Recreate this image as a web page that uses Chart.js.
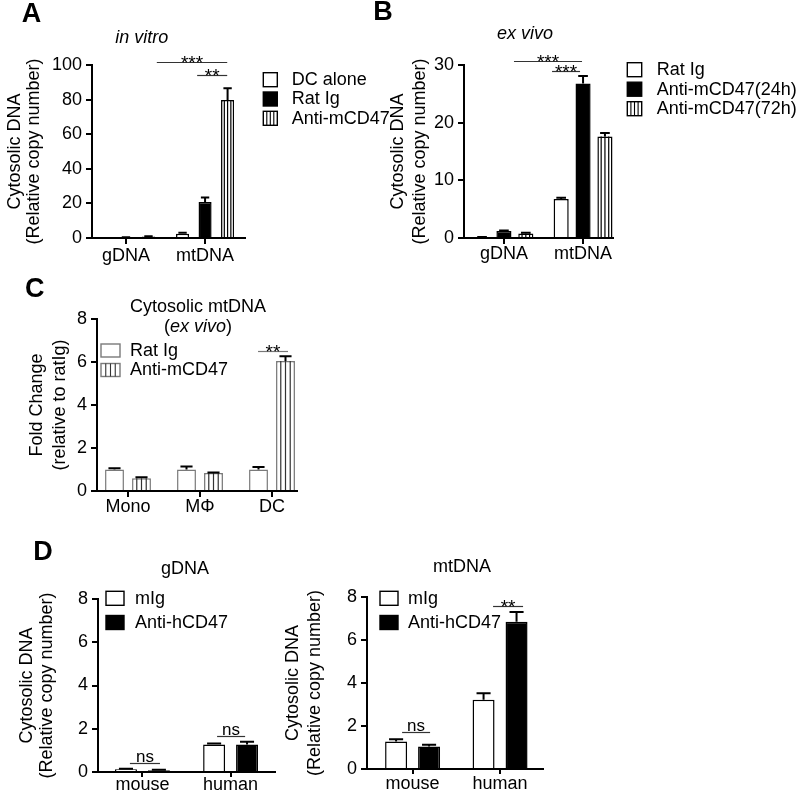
<!DOCTYPE html>
<html><head><meta charset="utf-8">
<script src="https://cdn.jsdelivr.net/npm/chart.js@4.4.1/dist/chart.umd.min.js"></script>
<style>
html,body{margin:0;padding:0;background:#fff;width:800px;height:795px;overflow:hidden;}
canvas{position:absolute;left:0;top:0;}
</style></head><body>
<canvas id="cA" width="800" height="795"></canvas>
<canvas id="cB" width="800" height="795"></canvas>
<canvas id="cC" width="800" height="795"></canvas>
<canvas id="cDL" width="800" height="795"></canvas>
<canvas id="cDR" width="800" height="795"></canvas>
<script>
// ---------- DATA ----------
// Panel A (in vitro)
const catsA = ['gDNA', 'mtDNA'];
const labelsA = ['DC alone', 'Rat Ig', 'Anti-mCD47'];
const dcAloneA = [0.05, 2.5];
const dcAloneErrA = [0.02, 0.6];
const ratIgA = [0.3, 20.8];
const ratIgErrA = [0.1, 2.6];
const antiA = [0.8, 79.7];
const antiErrA = [0.15, 6.8];
const yTitleA = ['Cytosolic DNA', '(Relative copy number)'];
const titleA = 'in vitro';
const sigA = [{from: 0.39, to: 1.28, y: 101.7, text: '***'}, {from: 0.9, to: 1.28, y: 94.2, text: '**'}];

// Panel B (ex vivo)
const catsB = ['gDNA', 'mtDNA'];
const labelsB = ['Rat Ig', 'Anti-mCD47(24h)', 'Anti-mCD47(72h)'];
const ratIgB = [0.15, 6.75];
const ratIgErrB = [0.03, 0.25];
const anti24B = [1.2, 26.8];
const anti24ErrB = [0.12, 1.3];
const anti72B = [0.8, 17.6];
const anti72ErrB = [0.1, 0.6];
const yTitleB = ['Cytosolic DNA', '(Relative copy number)'];
const titleB = 'ex vivo';
const sigB = [{from: 0.127, to: 0.987, y: 30.7, text: '***'}, {from: 0.608, to: 0.962, y: 28.9, text: '***'}];

// Panel C
const catsC = ['Mono', 'M\u03A6', 'DC'];
const labelsC = ['Rat Ig', 'Anti-mCD47'];
const ratIgC = [1.0, 1.0, 1.0];
const ratIgErrC = [0.06, 0.14, 0.12];
const antiC = [0.59, 0.84, 6.05];
const antiErrC = [0.05, 0.02, 0.22];
const yTitleC = ['Fold Change', '(relative to ratIg)'];
const titleC = 'Cytosolic mtDNA';
const subtitleC = [{t: '(', it: false}, {t: 'ex vivo', it: true}, {t: ')', it: false}];
const sigC = [{from: 1.806, to: 2.222, y: 6.5, text: '**'}];

// Panel D
const catsD = ['mouse', 'human'];
const labelsD = ['mIg', 'Anti-hCD47'];
const mIgDg = [0.13, 1.27];
const mIgErrDg = [0.02, 0.05];
const antiDg = [0.08, 1.27];
const antiErrDg = [0.02, 0.13];
const mIgDm = [1.28, 3.22];
const mIgErrDm = [0.1, 0.3];
const antiDm = [1.05, 6.85];
const antiErrDm = [0.08, 0.45];
const yTitleD = ['Cytosolic DNA', '(Relative copy number)'];
const titleDg = 'gDNA';
const titleDm = 'mtDNA';
const sigDg = [{from: -0.142, to: 0.199, y: 0.42, text: 'ns'}, {from: 0.847, to: 1.165, y: 1.67, text: 'ns'}];
const sigDm = [{from: -0.12, to: 0.2, y: 1.73, text: 'ns'}, {from: 0.92, to: 1.263, y: 7.6, text: '**'}];

// ---------- DRAWING ----------
const FONT = '"Liberation Sans", Arial, Helvetica, sans-serif';
const W = 800, H = 795;

function placeCats(s, fr) {
  const n = s.getLabels().length;
  if (typeof s._startValue !== 'number' || n < 2) return;
  const r = (n - 1) / (fr[1] - fr[0]);
  s._startValue = -fr[0] * r;
  s._valueRange = r;
}

function setFont(ctx, size, style) {
  ctx.font = (style ? style + ' ' : '') + size + 'px ' + FONT;
}

const decor = {
  id: 'decor',
  afterDatasetsDraw(chart, args, o) {
    const ctx = chart.ctx, ys = chart.scales.y;
    chart.data.datasets.forEach((ds, di) => {
      chart.getDatasetMeta(di).data.forEach((el, i) => {
        const p = el.getProps(['x', 'y', 'base', 'width'], true);
        const l = p.x - p.width / 2;
        ctx.save();
        if (ds.hatch) {
          ctx.strokeStyle = o.hatchColor || '#000';
          ctx.lineWidth = 1.2;
          ctx.beginPath();
          for (let k = 1; k < 4; k++) {
            const xx = l + p.width * k / 4;
            ctx.moveTo(xx, p.y); ctx.lineTo(xx, p.base);
          }
          ctx.stroke();
        }
        if (ds.errors) {
          ctx.strokeStyle = '#000';
          const yt = ys.getPixelForValue(ds.data[i] + ds.errors[i]);
          const c = p.width * 0.32;
          ctx.lineWidth = 2;
          ctx.beginPath();
          ctx.moveTo(p.x, p.y); ctx.lineTo(p.x, yt);
          ctx.moveTo(p.x - c, yt); ctx.lineTo(p.x + c, yt);
          ctx.stroke();
        }
        ctx.restore();
      });
    });
  },
  afterDraw(chart, args, o) {
    const ctx = chart.ctx, xs = chart.scales.x, ys = chart.scales.y;
    ctx.save();
    ctx.fillStyle = '#000';
    // significance brackets
    (o.sig || []).forEach(s => {
      const x1 = xs.getPixelForValue(s.from), x2 = xs.getPixelForValue(s.to);
      const y = Math.round(ys.getPixelForValue(s.y)) + 0.5;
      ctx.strokeStyle = o.sigColor || '#333'; ctx.lineWidth = 1.2;
      ctx.beginPath(); ctx.moveTo(x1, y); ctx.lineTo(x2, y); ctx.stroke();
      const stars = s.text.indexOf('*') >= 0;
      setFont(ctx, stars ? 19 : 17, '');
      ctx.fillStyle = '#000';
      ctx.textAlign = 'center'; ctx.textBaseline = 'alphabetic';
      ctx.fillText(s.text, (x1 + x2) / 2, stars ? y + 6 : y - 2);
    });
    // texts
    (o.texts || []).forEach(t => {
      ctx.fillStyle = '#000';
      ctx.textBaseline = 'alphabetic';
      if (Array.isArray(t.s)) {
        let total = 0;
        t.s.forEach(seg => { setFont(ctx, t.size, seg.it ? 'italic' : ''); total += ctx.measureText(seg.t).width; });
        let x = t.x - total / 2;
        ctx.textAlign = 'left';
        t.s.forEach(seg => { setFont(ctx, t.size, seg.it ? 'italic' : ''); ctx.fillText(seg.t, x, t.y); x += ctx.measureText(seg.t).width; });
      } else {
        setFont(ctx, t.size, t.style || '');
        ctx.textAlign = t.align || 'center';
        ctx.fillText(t.s, t.x, t.y);
      }
    });
    // legend
    const lg = o.legend;
    if (lg) {
      chart.data.datasets.forEach((ds, i) => {
        const cy = lg.y + i * lg.dy;
        const bx = lg.x, by = cy - lg.bh / 2;
        ctx.fillStyle = ds.backgroundColor;
        ctx.fillRect(bx, by, lg.bw, lg.bh);
        ctx.strokeStyle = ds.borderColor; ctx.lineWidth = 1.4;
        ctx.strokeRect(bx, by, lg.bw, lg.bh);
        if (ds.hatch) {
          ctx.strokeStyle = o.hatchColor || '#000';
          ctx.lineWidth = 1.1;
          ctx.beginPath();
          for (let k = 1; k < 4; k++) { const xx = bx + lg.bw * k / 4; ctx.moveTo(xx, by); ctx.lineTo(xx, by + lg.bh); }
          ctx.stroke();
        }
        ctx.fillStyle = '#000';
        setFont(ctx, 18, '');
        ctx.textAlign = 'left'; ctx.textBaseline = 'middle';
        ctx.fillText(ds.label, bx + lg.bw + lg.gap, cy + 0.5);
      });
    }
    ctx.restore();
  }
};

function ds(label, data, errors, kind, stroke) {
  return {
    label, data, errors,
    hatch: kind === 'hatch',
    backgroundColor: kind === 'black' ? '#000' : '#fff',
    borderColor: kind === 'black' ? '#000' : (stroke || '#000'),
    borderWidth: 1.5,
    borderSkipped: 'bottom'
  };
}

function makeChart(id, c) {
  const xH = 40;
  return new Chart(document.getElementById(id), {
    type: 'bar',
    data: {labels: c.labels, datasets: c.datasets.map(d => Object.assign(d, {categoryPercentage: c.catPct, barPercentage: c.barPct}))},
    options: {
      responsive: false, animation: false, events: [],
      layout: {autoPadding: false, padding: {left: c.yLeft, top: c.top, right: W - c.right, bottom: H - c.bottom - xH}},
      plugins: {legend: {display: false}, tooltip: {enabled: false}, decor: c.decor},
      scales: {
        x: {
          type: 'category', offset: true,
          grid: {display: true, offset: false, drawOnChartArea: false, drawTicks: true, tickLength: c.xTick, color: '#000', lineWidth: 2},
          border: {display: true, color: '#000', width: 2, z: 1},
          ticks: {color: '#000', font: {family: FONT, size: 18}, padding: c.xPad, autoSkip: false, maxRotation: 0},
          afterBuildTicks: s => placeCats(s, c.catFrac),
          afterFit: s => { s.height = xH; s.paddingLeft = 0; s.paddingRight = 0; s.paddingTop = 0; s.paddingBottom = 0; }
        },
        y: {
          min: 0, max: c.yMax,
          ticks: {stepSize: c.yStep, color: '#000', font: {family: FONT, size: 18}, padding: 4},
          grid: {display: true, drawOnChartArea: false, drawTicks: true, tickLength: 6, color: '#000', lineWidth: 2},
          border: {display: true, color: '#000', width: 2, z: 1},
          title: {display: true, text: c.yTitle, color: '#000', font: {family: FONT, size: 18, lineHeight: c.yTitleLH}, padding: 0},
          afterFit: s => { s.width = c.left - c.yLeft; s.paddingTop = 0; s.paddingBottom = 0; s.paddingLeft = 0; s.paddingRight = 0; }
        }
      }
    },
    plugins: [decor]
  });
}

// Panel A
makeChart('cA', {
  labels: catsA,
  datasets: [ds(labelsA[0], dcAloneA, dcAloneErrA, 'white'), ds(labelsA[1], ratIgA, ratIgErrA, 'black'), ds(labelsA[2], antiA, antiErrA, 'hatch')],
  left: 92, right: 245, top: 65, bottom: 238, yLeft: 5.7, yTitleLH: 18.6 / 18,
  yMax: 100, yStep: 20, yTitle: yTitleA, catFrac: [0.222, 0.739], catPct: 0.854, barPct: 0.58, xTick: 6, xPad: 1,
  decor: {
    sig: sigA,
    texts: [{s: 'A', x: 21.7, y: 21.7, size: 27, style: 'bold', align: 'left'}, {s: titleA, x: 141.7, y: 43.3, size: 18, style: 'italic'}],
    legend: {x: 263.3, y: 79.7, dy: 19.3, bw: 14, bh: 14, gap: 14.4}
  }
});

// Panel B
makeChart('cB', {
  labels: catsB,
  datasets: [ds(labelsB[0], ratIgB, ratIgErrB, 'white'), ds(labelsB[1], anti24B, anti24ErrB, 'black'), ds(labelsB[2], anti72B, anti72ErrB, 'hatch')],
  left: 464, right: 613, top: 65, bottom: 238, yLeft: 387.5, yTitleLH: 21.8 / 18,
  yMax: 30, yStep: 10, yTitle: yTitleB, catFrac: [0.268, 0.799], catPct: 0.83, barPct: 0.69, xTick: 6, xPad: -1,
  decor: {
    sig: sigB,
    texts: [{s: 'B', x: 373.3, y: 20, size: 27, style: 'bold', align: 'left'}, {s: titleB, x: 525, y: 39.3, size: 18, style: 'italic'}],
    legend: {x: 627.3, y: 69.7, dy: 19.5, bw: 14.4, bh: 14, gap: 15}
  }
});

// Panel C (grey outlines as in the reference)
makeChart('cC', {
  labels: catsC,
  datasets: [ds(labelsC[0], ratIgC, ratIgErrC, 'white', '#7a7a7a'), ds(labelsC[1], antiC, antiErrC, 'hatch', '#7a7a7a')],
  left: 97, right: 297, top: 319, bottom: 491, yLeft: 25.1, yTitleLH: 23.2 / 18,
  yMax: 8, yStep: 2, yTitle: yTitleC, catFrac: [0.155, 0.875], catPct: 0.75, barPct: 0.70, xTick: 6, xPad: -1,
  decor: {
    sig: sigC, sigColor: '#777', hatchColor: '#333',
    texts: [{s: 'C', x: 25, y: 296.7, size: 27, style: 'bold', align: 'left'}, {s: titleC, x: 198, y: 311.7, size: 18}, {s: subtitleC, x: 198, y: 332, size: 18}],
    legend: {x: 101, y: 350.5, dy: 19.5, bw: 19, bh: 13, gap: 10}
  }
});

// Panel D left (gDNA)
makeChart('cDL', {
  labels: catsD,
  datasets: [ds(labelsD[0], mIgDg, mIgErrDg, 'white'), ds(labelsD[1], antiDg, antiErrDg, 'black')],
  left: 98, right: 275, top: 599, bottom: 772, yLeft: 16.6, yTitleLH: 20.2 / 18,
  yMax: 8, yStep: 2, yTitle: yTitleD, catFrac: [0.251, 0.749], catPct: 0.747, barPct: 0.667, xTick: 5, xPad: -3,
  decor: {
    sig: sigDg,
    texts: [{s: 'D', x: 33.3, y: 560, size: 27, style: 'bold', align: 'left'}, {s: titleDg, x: 185, y: 574, size: 18}],
    legend: {x: 106, y: 598.3, dy: 24.2, bw: 18, bh: 14, gap: 11}
  }
});

// Panel D right (mtDNA)
makeChart('cDR', {
  labels: catsD,
  datasets: [ds(labelsD[0], mIgDm, mIgErrDm, 'white'), ds(labelsD[1], antiDm, antiErrDm, 'black')],
  left: 367, right: 543, top: 597, bottom: 769, yLeft: 282.6, yTitleLH: 21.6 / 18,
  yMax: 8, yStep: 2, yTitle: yTitleD, catFrac: [0.259, 0.756], catPct: 0.754, barPct: 0.667, xTick: 5, xPad: -1,
  decor: {
    sig: sigDm,
    texts: [{s: titleDm, x: 462, y: 572, size: 18}],
    legend: {x: 380, y: 598.3, dy: 24.2, bw: 18, bh: 14, gap: 10}
  }
});
</script>
</body></html>
